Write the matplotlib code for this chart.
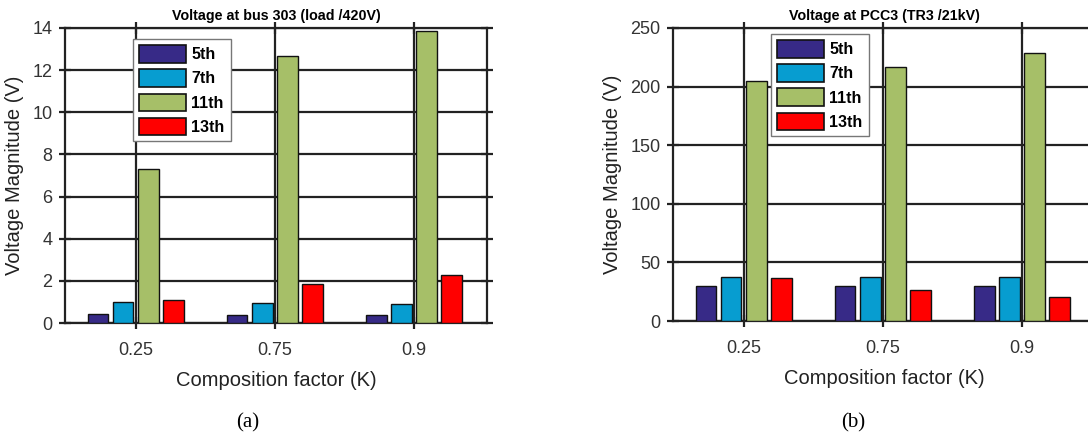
import numpy as np
import matplotlib
matplotlib.use("Agg")
import matplotlib.pyplot as plt

plt.rcParams['font.family'] = ['Liberation Sans', 'DejaVu Sans']

# data
factors = ['0.25', '0.75', '0.9']
harmonics = ['5th', '7th', '11th', '13th']
colors = ['#372a87', '#079dd0', '#a6bf68', '#ff0000']

bus303_5th = [0.44, 0.38, 0.37]
bus303_7th = [1.01, 0.96, 0.92]
bus303_11th = [7.29, 12.67, 13.86]
bus303_13th = [1.10, 1.84, 2.27]

pcc3_5th = [30.0, 30.0, 30.0]
pcc3_7th = [37.3, 37.6, 37.6]
pcc3_11th = [205.0, 217.0, 229.0]
pcc3_13th = [36.4, 26.2, 20.5]

fig = plt.figure(figsize=(10.88, 4.37), dpi=100)
ax1 = fig.add_axes([65 / 1088, 1 - 323 / 437, 422 / 1088, 295 / 437])
ax2 = fig.add_axes([673 / 1088, 1 - 321 / 437, 422 / 1088, 293 / 437])

x = np.arange(1, len(factors) + 1)
width = 0.145
step = 0.18


def draw(ax, series, title, ymax, ystep, leg_anchor):
    ax.set_axisbelow(True)
    for i, vals in enumerate(series):
        ax.bar(x + (i - 1.5) * step, vals, width, color=colors[i],
               edgecolor='#111111', linewidth=1.0, label=harmonics[i], zorder=3)
    ax.set_xlim(0.49, 3.525)
    ax.set_ylim(0, ymax)
    ax.set_yticks(np.arange(0, ymax + 0.1, ystep))
    ax.set_xticks(x)
    ax.set_xticklabels(factors)
    ax.grid(True, color='#222222', linewidth=1.6)
    for s in ax.spines.values():
        s.set_linewidth(1.6)
        s.set_color('#222222')
    ax.tick_params(axis='both', direction='inout', length=8, width=1.6,
                   color='#222222', labelsize=13, labelcolor='#333333',
                   top=True, right=True)
    ax.tick_params(axis='y', pad=5)
    ax.tick_params(axis='x', pad=10)
    ax.set_title(title, fontsize=10.3, fontweight='bold', pad=6)
    ax.set_xlabel('Composition factor (K)', fontsize=14.5, color='#222222', labelpad=8)
    ax.set_ylabel('Voltage Magnitude (V)', fontsize=14.5, color='#222222', labelpad=6)
    leg = ax.legend(loc='upper left', bbox_to_anchor=leg_anchor,
                    prop={'weight': 'bold', 'size': 11.5},
                    fancybox=False, framealpha=1, edgecolor='#777777',
                    handlelength=2.9, handleheight=1.3, handletextpad=0.35,
                    labelspacing=0.42, borderpad=0.4, borderaxespad=0)
    leg.get_frame().set_linewidth(1.0)
    for p in leg.get_patches():
        p.set_linewidth(1.2)


draw(ax1, [bus303_5th, bus303_7th, bus303_11th, bus303_13th],
     'Voltage at bus 303 (load /420V)', 14, 2, (0.161, 0.963))
draw(ax2, [pcc3_5th, pcc3_7th, pcc3_11th, pcc3_13th],
     'Voltage at PCC3 (TR3 /21kV)', 250, 50, (0.232, 0.980))

fig.text(248 / 1088, 1 - 423 / 437, '(a)', family='Liberation Serif',
         fontsize=15, ha='center', va='center')
fig.text(853 / 1088, 1 - 423 / 437, '(b)', family='Liberation Serif',
         fontsize=15, ha='center', va='center')

fig.savefig('out.png', dpi=100)
